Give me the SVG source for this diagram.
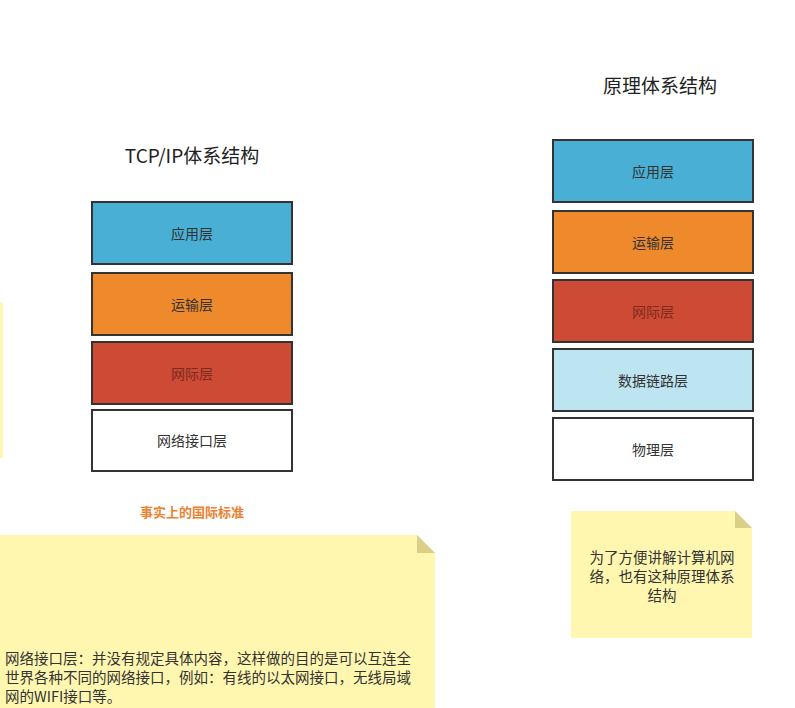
<svg xmlns="http://www.w3.org/2000/svg" width="795" height="708" viewBox="0 0 795 708">
<style>
text{font-family:"Noto Sans CJK SC","Liberation Sans",sans-serif;}
.layer{stroke:#333;stroke-width:2;}
.lt{font-size:14px;fill:#333;text-anchor:middle;dominant-baseline:central;}
.title{font-size:19px;fill:#222;text-anchor:middle;}
.note{fill:#fff7b0;}
.fold{fill:#d9cf88;}
.nt{font-size:14.5px;fill:#333;}
</style>
<rect width="795" height="708" fill="#fff"/>
<text class="title" x="192" y="163">TCP/IP体系结构</text>
<text class="title" x="660" y="93">原理体系结构</text>
<g id="tcp-app"><rect class="layer" x="92" y="202" width="200" height="62" fill="#4aafd5"/><text class="lt" x="192" y="233">应用层</text></g>
<g id="tcp-trans"><rect class="layer" x="92" y="273" width="200" height="62" fill="#ee8a2c"/><text class="lt" x="192" y="304">运输层</text></g>
<g id="tcp-net"><rect class="layer" x="92" y="342" width="200" height="62" fill="#cd4a34"/><text class="lt" x="192" y="373" style="fill:#7d2a1f">网际层</text></g>
<g id="tcp-if"><rect class="layer" x="92" y="410" width="200" height="61" fill="#fff"/><text class="lt" x="192" y="440">网络接口层</text></g>
<g id="p-app"><rect class="layer" x="553" y="140" width="200" height="62" fill="#4aafd5"/><text class="lt" x="653" y="171">应用层</text></g>
<g id="p-trans"><rect class="layer" x="553" y="211" width="200" height="62" fill="#ee8a2c"/><text class="lt" x="653" y="242">运输层</text></g>
<g id="p-net"><rect class="layer" x="553" y="280" width="200" height="62" fill="#cd4a34"/><text class="lt" x="653" y="311" style="fill:#7d2a1f">网际层</text></g>
<g id="p-link"><rect class="layer" x="553" y="349" width="200" height="62" fill="#bde4f1"/><text class="lt" x="653" y="380">数据链路层</text></g>
<g id="p-phy"><rect class="layer" x="553" y="418" width="200" height="62" fill="#fff"/><text class="lt" x="653" y="449">物理层</text></g>
<g id="label-std"><text x="192" y="517" text-anchor="middle" style="font-size:13px;font-weight:bold;fill:#ec8130">事实上的国际标准</text></g>
<g id="note-left"><path class="note" d="M-10 302 H1 L3 305 V458 H-10 Z"/></g>
<g id="note-bottom">
<path class="note" d="M0 535 H417 L435 553 V708 H0 Z"/>
<path class="fold" d="M417 535 L435 553 H417 Z"/>
<text class="nt" x="5" y="664">网络接口层：并没有规定具体内容，这样做的目的是可以互连全</text>
<text class="nt" x="5" y="683">世界各种不同的网络接口，例如：有线的以太网接口，无线局域</text>
<text class="nt" x="5" y="702">网的WIFI接口等。</text>
</g>
<g id="note-right">
<path class="note" d="M571 511 H735 L752 528 V638 H571 Z"/>
<path class="fold" d="M735 511 L752 528 H735 Z"/>
<text class="nt" x="662" y="563" text-anchor="middle">为了方便讲解计算机网</text>
<text class="nt" x="662" y="582" text-anchor="middle">络，也有这种原理体系</text>
<text class="nt" x="662" y="601" text-anchor="middle">结构</text>
</g>
<g id="connectors"></g>
</svg>
